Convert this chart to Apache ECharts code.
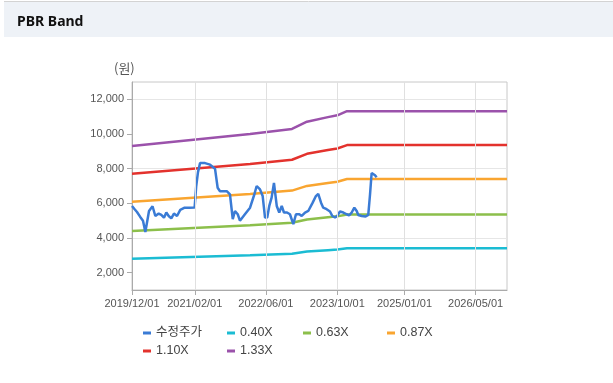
<!DOCTYPE html>
<html>
<head>
<meta charset="utf-8">
<script src="https://cdn.jsdelivr.net/npm/echarts@6/dist/echarts.min.js"></script>
<style>
html,body{margin:0;padding:0;background:#fff;}
#c{width:613px;height:383px;}
</style>
</head>
<body>
<div id="c"></div>
<script>
// ---- data ----
const priceDates = ['2019-12-01','2019-12-19','2020-01-04','2020-01-25','2020-02-14','2020-03-01','2020-03-14','2020-03-26','2020-04-19','2020-05-08','2020-05-31','2020-06-18','2020-07-06','2020-07-22','2020-08-07','2020-08-25','2020-09-12','2020-10-03','2020-10-25','2020-11-24','2020-12-28','2021-01-31','2021-02-11','2021-02-23','2021-03-09','2021-04-12','2021-05-16','2021-06-19','2021-07-07','2021-07-23','2021-09-07','2021-09-29','2021-10-18','2021-11-02','2021-11-21','2021-12-06','2022-01-09','2022-02-13','2022-03-14','2022-03-30','2022-04-22','2022-05-10','2022-05-26','2022-06-10','2022-06-24','2022-07-10','2022-07-26','2022-08-02','2022-08-14','2022-08-31','2022-09-17','2022-10-02','2022-10-23','2022-11-12','2022-12-05','2022-12-23','2023-01-15','2023-01-31','2023-02-23','2023-03-17','2023-04-16','2023-05-08','2023-05-24','2023-06-12','2023-06-27','2023-07-20','2023-08-12','2023-08-28','2023-09-15','2023-10-01','2023-10-19','2023-11-11','2023-12-04','2023-12-20','2024-01-07','2024-01-25','2024-02-10','2024-02-21','2024-03-15','2024-04-11','2024-04-29','2024-05-11','2024-05-22','2024-06-02','2024-06-14','2024-06-25'];
const priceValues = [5850,5660,5500,5230,5000,4350,4450,5560,5830,5270,5410,5330,5170,5470,5270,5130,5410,5270,5620,5750,5750,5760,7000,7800,8320,8320,8230,8000,6900,6700,6700,6510,5090,5560,5370,5000,5370,5750,6510,7000,6800,6420,5180,5180,5850,6330,7180,7090,5850,5470,5850,5470,5470,5370,4800,5370,5370,5270,5470,5560,6040,6420,6550,6040,5750,5660,5530,5270,5180,5270,5530,5470,5370,5310,5470,5750,5560,5330,5270,5240,5330,6510,7750,7850,7620,7500];

const bandDates = ['2019-12-01','2022-02-13','2022-11-26','2023-03-08','2023-07-29','2023-10-01','2023-12-06','2026-12-01'];
const band040 = [2800,3008,3096,3220,3300,3332,3404,3404];
const band063 = [4410,4738,4876,5072,5198,5248,5361,5361];
const band087 = [6090,6542,6734,7004,7178,7247,7404,7404];
const band110 = [7700,8272,8514,8855,9075,9163,9361,9361];
const band133 = [9310,10002,10294,10707,10973,11079,11318,11318];

const xTickDates = ['2019-12-01','2021-02-01','2022-06-01','2023-10-01','2025-01-01','2026-05-01'];
const xRange = ['2019-12-01','2026-12-01'];
const yTickValues = [2000,4000,6000,8000,10000,12000];
const yRange = [1000,13000];

const names = ['수정주가','0.40X','0.63X','0.87X','1.10X','1.33X'];
const colors = ['#3a7bd5','#1bbcd3','#8cbf4b','#f9a530','#e3322d','#9b52ab'];

// ---- helpers ----
const ts = s => Date.parse(s + 'T00:00:00Z');
const pad = n => (n < 10 ? '0' : '') + n;
const fmtDate = v => { const d = new Date(v); return d.getUTCFullYear() + '/' + pad(d.getUTCMonth()+1) + '/' + pad(d.getUTCDate()); };
const pairs = (ds, vs) => ds.map((d, i) => [ts(d), vs[i]]);

function bandSeries(name, vals, color) {
  return {
    name, type: 'line', data: pairs(bandDates, vals), showSymbol: false,
    lineStyle: { width: 2.5, color }, itemStyle: { color }, z: 3
  };
}

const chart = echarts.init(document.getElementById('c'), null, { renderer: 'canvas' });
const legendBase = {
  orient: 'vertical', icon: 'rect', itemWidth: 8, itemHeight: 3, itemGap: 4,
  padding: 0, top: 326, selectedMode: false,
  textStyle: { fontSize: 12.5, color: '#444', lineHeight: 14, fontFamily: 'Liberation Sans, Noto Sans CJK KR, sans-serif' }
};

chart.setOption({
  animation: false,
  textStyle: { fontFamily: 'Liberation Sans, Noto Sans CJK KR, sans-serif' },
  title: {
    text: 'PBR Band', left: 12, top: 10,
    textStyle: { fontSize: 14, fontWeight: 'bold', color: '#111', fontFamily: 'Noto Sans, Noto Sans CJK KR, sans-serif' }
  },
  graphic: [
    { type: 'rect', z: -10, shape: { x: 4, y: 2, width: 609, height: 35 }, style: { fill: '#eef2f7' } },
    { type: 'line', z: -9, shape: { x1: 4, y1: 1.5, x2: 613, y2: 1.5 }, style: { stroke: '#d3d3d3', lineWidth: 1 } },
    { type: 'text', left: 114, top: 62, style: { text: '(원)', fontSize: 13, fill: '#555', fontFamily: 'Noto Sans CJK KR, sans-serif' } }
  ],
  color: colors,
  legend: [
    Object.assign({}, legendBase, { left: 143, data: ['수정주가', '1.10X'] }),
    Object.assign({}, legendBase, { left: 227, data: ['0.40X', '1.33X'] }),
    Object.assign({}, legendBase, { left: 303, data: ['0.63X'] }),
    Object.assign({}, legendBase, { left: 387, data: ['0.87X'] })
  ],
  grid: { left: 132, right: 106, top: 82, bottom: 93, show: true, borderColor: '#c8c8c8', borderWidth: 1, backgroundColor: 'transparent' },
  xAxis: {
    type: 'value', min: ts(xRange[0]), max: ts(xRange[1]),
    axisLine: { show: true, lineStyle: { color: '#aaa' } },
    axisTick: { show: true, length: 5, lineStyle: { color: '#aaa' }, customValues: xTickDates.map(ts) },
    axisLabel: { customValues: xTickDates.map(ts), formatter: fmtDate, fontSize: 11, color: '#555', margin: 8, showMinLabel: true, showMaxLabel: true },
    splitLine: { show: false }
  },
  yAxis: {
    type: 'value', min: yRange[0], max: yRange[1], interval: 1000,
    axisLine: { show: true, lineStyle: { color: '#aaa' } },
    axisTick: { show: true, length: 5, lineStyle: { color: '#aaa' }, customValues: yTickValues },
    axisLabel: { customValues: yTickValues, fontSize: 11, color: '#555', margin: 8,
      formatter: v => (v % 2000 === 0 ? v.toLocaleString('en-US') : '') },
    splitLine: { show: true, lineStyle: { color: ['rgba(0,0,0,0)', '#e6e6e6'], width: 1 } }
  },
  series: [
    {
      name: 'grid-v', type: 'line', data: [], silent: true, z: 1,
      markLine: {
        silent: true, symbol: ['none', 'none'], animation: false,
        label: { show: false },
        lineStyle: { color: '#e0e0e0', width: 1, type: 'solid' },
        emphasis: { disabled: true },
        data: xTickDates.slice(1).map(d => [{ coord: [ts(d), yRange[0]] }, { coord: [ts(d), yRange[1]] }])
      }
    },
    bandSeries(names[1], band040, colors[1]),
    bandSeries(names[2], band063, colors[2]),
    bandSeries(names[3], band087, colors[3]),
    bandSeries(names[4], band110, colors[4]),
    bandSeries(names[5], band133, colors[5]),
    {
      name: names[0], type: 'line', data: pairs(priceDates, priceValues), showSymbol: false,
      lineStyle: { width: 2.5, color: colors[0] }, itemStyle: { color: colors[0] }, z: 4
    }
  ]
});
</script>
</body>
</html>
